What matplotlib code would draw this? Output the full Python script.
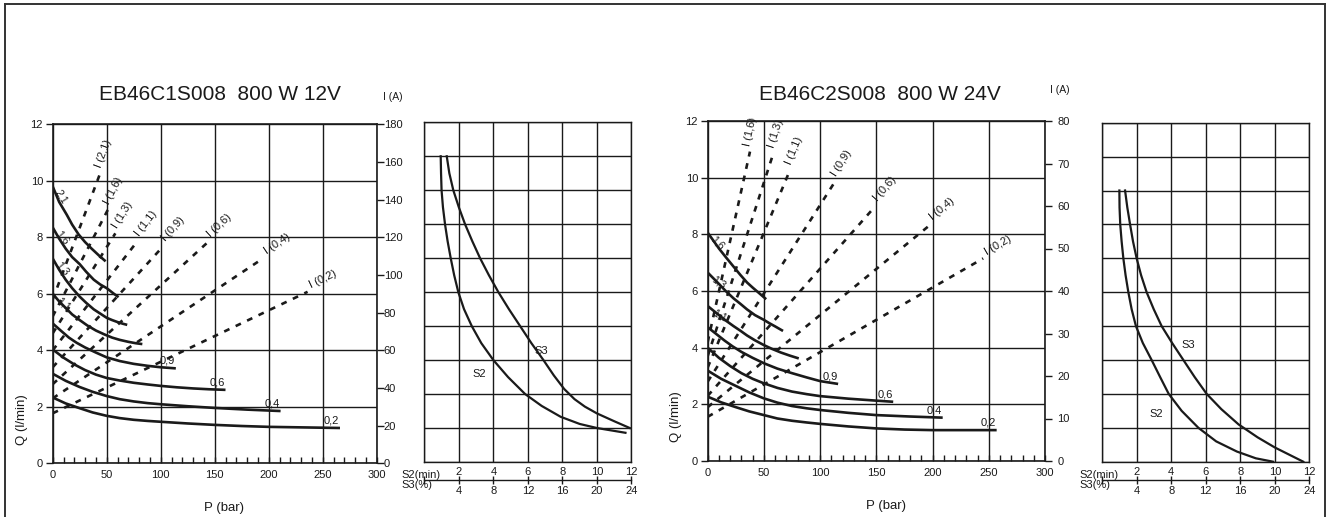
import numpy as np
import matplotlib
matplotlib.use("Agg")
import matplotlib.pyplot as plt
from matplotlib.lines import Line2D
from matplotlib.ticker import MultipleLocator

plt.rcParams['font.family'] = ['Liberation Sans', 'DejaVu Sans']

TINTA = '#1a1a1a'
W, H = 1330, 517

# ---------------- EB46C1S008 800 W 12V ----------------
titulo_12v = "EB46C1S008  800 W 12V"
cil_12v = ["2,1", "1,6", "1,3", "1,1", "0,9", "0,6", "0,4", "0,2"]
p_12v = [
    [0, 6, 13, 18, 24, 30, 36, 43, 49],
    [0, 6, 12, 18, 25, 31, 38, 44, 50, 56, 61],
    [0, 6, 12, 18, 25, 31, 38, 44, 50, 55, 60, 65, 69],
    [0, 6, 12, 18, 25, 32, 40, 48, 55, 62, 70, 77, 83],
    [0, 8, 15, 22, 30, 40, 50, 62, 75, 88, 100, 114],
    [0, 10, 20, 30, 40, 50, 62, 75, 88, 100, 115, 130, 145, 160],
    [0, 12, 25, 37, 50, 62, 75, 88, 100, 125, 150, 180, 211],
    [0, 12, 25, 37, 50, 62, 75, 88, 100, 125, 150, 175, 200, 233, 266],
]
q_12v = [
    [9.8, 9.25, 8.8, 8.45, 8.1, 7.83, 7.6, 7.35, 7.15],
    [8.35, 7.95, 7.6, 7.3, 7.05, 6.78, 6.5, 6.33, 6.2, 6.02, 5.88],
    [7.25, 6.85, 6.5, 6.2, 5.9, 5.68, 5.45, 5.3, 5.15, 5.07, 5.0, 4.94, 4.9],
    [6.0, 5.73, 5.5, 5.27, 5.07, 4.88, 4.7, 4.56, 4.45, 4.37, 4.3, 4.25, 4.22],
    [4.95, 4.68, 4.45, 4.27, 4.1, 3.92, 3.75, 3.62, 3.52, 3.45, 3.4, 3.36],
    [4.03, 3.74, 3.5, 3.3, 3.14, 3.02, 2.93, 2.85, 2.79, 2.74, 2.69, 2.65,
     2.62, 2.6],
    [3.17, 2.92, 2.7, 2.53, 2.38, 2.27, 2.19, 2.13, 2.09, 2.02, 1.96, 1.9,
     1.85],
    [2.33, 2.12, 1.95, 1.8, 1.68, 1.6, 1.54, 1.5, 1.47, 1.41, 1.36, 1.32,
     1.29, 1.27, 1.25],
]
# corriente: recta desde P=0 hasta el extremo (en escala Q)
i_q0_12v = [5.8, 5.2, 4.6, 4.0, 3.4, 2.8, 2.3, 1.77]
i_p1_12v = [44, 51, 58, 78, 102, 144, 195, 236]
i_q1_12v = [10.27, 8.97, 8.14, 7.84, 7.67, 7.84, 7.26, 6.07]
i_max_12v, i_paso_12v = 180, 20

s2_12v = [0.95, 0.97, 1.0, 1.08, 1.2, 1.35, 1.53, 1.73, 1.97, 2.3, 2.75,
          3.3, 4.0, 4.85, 5.84, 6.8, 7.9, 9.0, 10.0, 11.65]
f2_12v = [9, 8.5, 8, 7.5, 7, 6.5, 6, 5.5, 5, 4.5, 4, 3.5, 3, 2.5, 2, 1.65,
          1.33, 1.12, 1.0, 0.86]
s3_12v = [1.3, 1.45, 1.68, 2.0, 2.36, 2.78, 3.23, 3.74, 4.29, 4.9, 5.55,
          6.2, 6.9, 7.5, 8.1, 8.7, 9.3, 10.0, 11.0, 11.9]
f3_12v = [9, 8.5, 8, 7.5, 7, 6.5, 6, 5.5, 5, 4.5, 4, 3.5, 3, 2.55, 2.15,
          1.85, 1.63, 1.43, 1.2, 1.0]

# ---------------- EB46C2S008 800 W 24V ----------------
titulo_24v = "EB46C2S008  800 W 24V"
cil_24v = ["1,6", "1,3", "1,1", "0,9", "0,6", "0,4", "0,2"]
p_24v = [
    [0, 5, 10, 16, 23, 29, 35, 40, 45, 52],
    [0, 5, 10, 16, 23, 29, 35, 42, 50, 55, 60, 67],
    [0, 5, 10, 16, 23, 29, 35, 42, 50, 57, 65, 73, 81],
    [0, 8, 15, 22, 30, 40, 50, 62, 75, 88, 100, 116],
    [0, 10, 20, 30, 40, 50, 62, 75, 88, 100, 125, 150, 165],
    [0, 12, 25, 37, 50, 62, 75, 88, 100, 125, 150, 180, 209],
    [0, 12, 25, 37, 50, 62, 75, 88, 100, 125, 150, 175, 200, 228, 257],
]
q_24v = [
    [8.06, 7.78, 7.5, 7.2, 6.86, 6.57, 6.3, 6.12, 5.95, 5.71],
    [6.65, 6.45, 6.25, 6.0, 5.74, 5.55, 5.35, 5.15, 4.98, 4.86, 4.75, 4.59],
    [5.47, 5.31, 5.15, 4.96, 4.76, 4.6, 4.43, 4.26, 4.09, 3.96, 3.83, 3.72,
     3.62],
    [4.72, 4.47, 4.25, 4.05, 3.85, 3.64, 3.45, 3.26, 3.1, 2.95, 2.82, 2.72],
    [4.0, 3.64, 3.35, 3.1, 2.9, 2.74, 2.58, 2.45, 2.36, 2.29, 2.2, 2.13,
     2.09],
    [3.19, 2.9, 2.65, 2.42, 2.21, 2.06, 1.94, 1.86, 1.8, 1.7, 1.62, 1.57,
     1.53],
    [2.27, 2.07, 1.9, 1.75, 1.62, 1.5, 1.42, 1.36, 1.31, 1.22, 1.15, 1.11,
     1.09, 1.09, 1.09],
]
i_q0_24v = [4.2, 3.7, 3.3, 2.8, 2.3, 1.9, 1.56]
i_p1_24v = [37.6, 58.4, 73.2, 113.2, 148.8, 197.7, 245]
i_q1_24v = [10.92, 10.86, 10.27, 9.86, 8.98, 8.33, 7.15]
i_max_24v, i_paso_24v = 80, 10

s2_24v = [0.99, 1.0, 1.04, 1.12, 1.22, 1.35, 1.51, 1.7, 1.95, 2.35, 2.86,
          3.35, 3.85, 4.6, 5.57, 6.6, 7.8, 8.9, 9.9]
f2_24v = [8, 7.5, 7, 6.5, 6, 5.5, 5, 4.5, 4, 3.5, 3, 2.5, 2, 1.5, 1, 0.6,
          0.3, 0.1, 0]
s3_24v = [1.32, 1.45, 1.61, 1.78, 1.99, 2.25, 2.57, 2.98, 3.44, 4.05, 4.7,
          5.35, 6.05, 6.9, 7.9, 9.0, 10.0, 11.65]
f3_24v = [8, 7.5, 7, 6.5, 6, 5.5, 5, 4.5, 4, 3.5, 3, 2.5, 2, 1.55, 1.1,
          0.72, 0.42, 0]

s2_ticks = [2, 4, 6, 8, 10, 12]


def caja(x0, y0, x1, y1):
    return [x0 / W, 1 - y1 / H, (x1 - x0) / W, (y1 - y0) / H]


def angulo(ax, x0, y0, x1, y1):
    a = ax.transData.transform((x0, y0))
    b = ax.transData.transform((x1, y1))
    return np.degrees(np.arctan2(b[1] - a[1], b[0] - a[0]))


def grafico(pos, cil, pp, qq, q0, p1, q1, i_max, i_paso, tick_pad):
    ax = fig.add_axes(pos)
    ax.set_xlim(0, 300)
    ax.set_ylim(0, 12)
    ax.set_xticks(range(0, 301, 50))
    ax.set_yticks(range(0, 13, 2))
    ax.xaxis.set_minor_locator(MultipleLocator(10))
    ax.grid(True, color=TINTA, lw=1.0)
    ax.tick_params(axis='x', which='both', direction='in', length=4,
                   width=1, colors=TINTA, labelsize=8, pad=5)
    ax.tick_params(axis='y', direction='out', length=5, width=1,
                   colors=TINTA, labelsize=8, pad=2)
    for s in ax.spines.values():
        s.set_color(TINTA)
        s.set_linewidth(1.2)
    ax.set_xlabel("P (bar)", fontsize=9.5, color=TINTA)
    ax.set_ylabel("Q (l/min)", fontsize=9.5, color=TINTA)
    ax.xaxis.set_label_coords(0.53, -0.115)
    ax.yaxis.set_label_coords(-0.075, 0.13)

    ax2 = ax.twinx()
    ax2.set_ylim(0, i_max)
    ax2.set_yticks(range(0, i_max + 1, i_paso))
    ax2.tick_params(axis='y', direction='out', length=5, width=1,
                    colors=TINTA, labelsize=8, pad=tick_pad)
    for s in ax2.spines.values():
        s.set_visible(False)

    # curvas de caudal
    for nombre, p, q in zip(cil, pp, qq):
        ax.plot(p, q, color=TINTA, lw=1.9, solid_capstyle='butt',
                solid_joinstyle='round', zorder=4)
        if p[-1] < 100:
            ang = angulo(ax, p[0], q[0], p[1], q[1])
            ax.annotate(nombre, (p[0], q[0]), xytext=(6, -1),
                        textcoords='offset points', rotation=ang + 10,
                        fontsize=7.5, color=TINTA, ha='left', va='top',
                        rotation_mode='anchor', zorder=5)
        else:
            ax.annotate(nombre, (p[-1], q[-1]), xytext=(-6, 5.5),
                        textcoords='offset points', fontsize=8,
                        color=TINTA, ha='center', va='center', zorder=5)

    # rectas de corriente
    for nombre, a, b, c in zip(cil, q0, p1, q1):
        ax.plot([0, b], [a, c], color=TINTA, lw=1.9,
                linestyle=(0, (2.2, 2.6)), zorder=3)
        ang = angulo(ax, 0, a, b, c)
        r = np.radians(ang)
        d = 14
        ax.annotate("I (" + nombre + ")", (b, c),
                    xytext=(d * np.cos(r) - 3 * np.sin(r),
                            d * np.sin(r) + 3 * np.cos(r)),
                    textcoords='offset points', rotation=ang,
                    rotation_mode='anchor', fontsize=8, color=TINTA,
                    ha='center', va='center', zorder=5)
    return ax


def ciclo(pos, x2, y2, x3, y3, et2, et3, y_escala):
    ax = fig.add_axes(pos)
    ax.set_xlim(0, 12)
    ax.set_ylim(0, 10)
    ax.set_xticks(range(0, 13, 2))
    ax.set_yticks(range(0, 11))
    ax.grid(True, color=TINTA, lw=1.0)
    ax.tick_params(length=0, labelbottom=False, labelleft=False)
    for s in ax.spines.values():
        s.set_color(TINTA)
        s.set_linewidth(1.0)
    ax.plot(x2, y2, color=TINTA, lw=1.6, solid_joinstyle='round', zorder=3)
    ax.plot(x3, y3, color=TINTA, lw=1.6, solid_joinstyle='round', zorder=3)
    ax.text(et2[0], et2[1], "S2", fontsize=8, color=TINTA,
            ha='center', va='center')
    ax.text(et3[0], et3[1], "S3", fontsize=8, color=TINTA,
            ha='center', va='center')

    # escala S2 (min) / S3 (%)
    p = ax.get_position()
    sc = fig.add_axes([p.x0, y_escala, p.width, 1e-4])
    sc.set_xlim(0, 12)
    sc.set_yticks([])
    for lado in ('left', 'right', 'top'):
        sc.spines[lado].set_visible(False)
    sc.spines['bottom'].set_color(TINTA)
    sc.spines['bottom'].set_linewidth(1.0)
    sc.set_xticks([0] + s2_ticks, [""] + [str(2 * v) for v in s2_ticks])
    sc.tick_params(axis='x', direction='inout', length=6, width=1,
                   colors=TINTA, labelsize=8, pad=1.5)
    sec = sc.secondary_xaxis('top')
    sec.set_xticks(s2_ticks, [str(v) for v in s2_ticks])
    sec.tick_params(axis='x', length=0, colors=TINTA, labelsize=8, pad=2)
    sec.spines['top'].set_visible(False)
    sc.text(-1.35, 0.4, "S2(min)", fontsize=8, color=TINTA,
            ha='left', va='bottom', transform=sc.transData)
    sc.text(-1.35, -0.4, "S3(%)", fontsize=8, color=TINTA,
            ha='left', va='top', transform=sc.transData)


fig = plt.figure(figsize=(W / 100, H / 100), dpi=100)
fig.patch.set_facecolor('white')

# marco
for xs, ys in (([4.7, 1325.3], [3.5, 3.5]), ([4.7, 4.7], [3.5, 517]),
               ([1325.3, 1325.3], [3.5, 517])):
    fig.add_artist(Line2D([x / W for x in xs], [1 - y / H for y in ys],
                          transform=fig.transFigure, color='#333333', lw=1.4))

grafico(caja(52.7, 124.3, 376.7, 463.3), cil_12v, p_12v, q_12v,
        i_q0_12v, i_p1_12v, i_q1_12v, i_max_12v, i_paso_12v, 0)
grafico(caja(707.7, 121.0, 1045.0, 461.0), cil_24v, p_24v, q_24v,
        i_q0_24v, i_p1_24v, i_q1_24v, i_max_24v, i_paso_24v, 4)

ciclo(caja(424.3, 122.3, 631.5, 462.0), s2_12v, f2_12v, s3_12v, f3_12v,
      (3.19, 2.58), (6.77, 3.26), 1 - 480 / H)
ciclo(caja(1102.3, 122.7, 1309.3, 461.7), s2_24v, f2_24v, s3_24v, f3_24v,
      (3.15, 1.42), (4.99, 3.45), 1 - 480 / H)

fig.text(220 / W, 1 - 94 / H, titulo_12v, fontsize=15, color=TINTA,
         ha='center', va='center')
fig.text(880 / W, 1 - 94 / H, titulo_24v, fontsize=15, color=TINTA,
         ha='center', va='center')
fig.text(393 / W, 1 - 97 / H, "I (A)", fontsize=7.5, color=TINTA,
         ha='center', va='center')
fig.text(1060 / W, 1 - 90 / H, "I (A)", fontsize=7.5, color=TINTA,
         ha='center', va='center')

fig.savefig("out.png", dpi=100, facecolor='white')
